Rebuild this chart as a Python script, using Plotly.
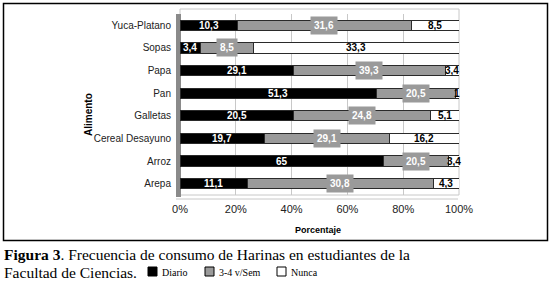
import numpy as np
import plotly.graph_objects as go

categories = ["Arepa", "Arroz", "Cereal Desayuno", "Galletas", "Pan", "Papa", "Sopas", "Yuca-Platano"]
diario = [11.1, 65, 19.7, 20.5, 51.3, 29.1, 3.4, 10.3]
semanal = [30.8, 20.5, 29.1, 24.8, 20.5, 39.3, 8.5, 31.6]
nunca = [4.3, 3.4, 16.2, 5.1, 1, 3.4, 33.3, 8.5]
series_names = ["Diario", "3-4 v/Sem", "Nunca"]
tick_vals = [0, 20, 40, 60, 80, 100]
tick_text = ["0%", "20%", "40%", "60%", "80%", "100%"]

colors = ["#000000", "#9a9a9a", "#ffffff"]

W, H = 550, 284
L, R, T, B = 180, 91, 14, 89

fig = go.Figure()
series = [diario, semanal, nunca]
for name, vals, col in zip(series_names, series, colors):
    fig.add_trace(go.Bar(
        y=categories, x=vals, name=name, orientation="h",
        marker=dict(color=col, line=dict(color="#2a2a2a", width=1)),
        showlegend=False, hoverinfo="skip",
    ))


def fmt(v):
    if float(v).is_integer():
        return str(int(v))
    return f"{v:.1f}".replace(".", ",")


arr = np.array(series, dtype=float)
tot = arr.sum(axis=0)
pct = arr / tot * 100
cum = np.cumsum(pct, axis=0)
annotations = []
for si in range(3):
    for ci, cat in enumerate(categories):
        mid = cum[si, ci] - pct[si, ci] / 2
        v = series[si][ci]
        base = dict(x=mid, y=cat, xref="x", yref="y", text=f"<b>{fmt(v)}</b>",
                    showarrow=False, xanchor="center", yanchor="middle")
        if si == 0:
            base["font"] = dict(color="white", size=10, family="Liberation Sans")
        elif si == 1:
            base.update(bgcolor="#9a9a9a", borderpad=3)
            base["font"] = dict(color="white", size=10, family="Liberation Sans")
        else:
            base["font"] = dict(color="black", size=10, family="Liberation Sans")
        annotations.append(base)

pw = W - L - R
ph = H - T - B


def px_x(p):
    return (p - L) / pw


def px_y(p):
    return (H - B - p) / ph


annotations += [
    dict(x=px_x(88), y=px_y(115), xref="paper", yref="paper", text="<b>Alimento</b>", textangle=-90,
         xanchor="center", yanchor="middle",
         showarrow=False, font=dict(size=10, family="Liberation Sans", color="black")),
    dict(x=px_x(318), y=px_y(230), xref="paper", yref="paper", text="<b>Porcentaje</b>",
         xanchor="center", yanchor="middle",
         showarrow=False, font=dict(size=9, family="Liberation Sans", color="black")),
    dict(x=px_x(2), y=px_y(254), xref="paper", yref="paper", xanchor="left", yanchor="middle",
         text="<b>Figura 3</b>. Frecuencia de consumo de Harinas en estudiantes de la",
         showarrow=False, font=dict(size=15.5, family="Liberation Serif", color="black")),
    dict(x=px_x(2), y=px_y(272), xref="paper", yref="paper", xanchor="left", yanchor="middle",
         text="Facultad de Ciencias.",
         showarrow=False, font=dict(size=15.5, family="Liberation Serif", color="black")),
]

shapes = []
# outer border
shapes.append(dict(type="rect", xref="paper", yref="paper", x0=px_x(3.5), x1=px_x(547.5), y0=px_y(240.5), y1=px_y(3.5),
                   line=dict(color="black", width=1.5), layer="below"))
# back wall border
shapes.append(dict(type="rect", xref="paper", yref="paper", x0=0, x1=1, y0=0, y1=px_y(9),
                   line=dict(color="#c8c8c8", width=1), layer="below"))
# left wall
shapes.append(dict(type="rect", xref="paper", yref="paper", x0=px_x(176), x1=px_x(181), y0=px_y(197), y1=px_y(14),
                   fillcolor="#8a8a8a", line=dict(width=0), layer="below"))
# floor
shapes.append(dict(type="line", xref="paper", yref="paper", x0=px_x(176), x1=px_x(458), y0=px_y(199), y1=px_y(199),
                   line=dict(color="#c8c8c8", width=1)))

# legend swatches in caption
leg = [(148, "Diario", "#000000"), (205, "3-4 v/Sem", "#9a9a9a"), (277, "Nunca", "#ffffff")]
for x0, name, col in leg:
    shapes.append(dict(type="rect", xref="paper", yref="paper", x0=px_x(x0), x1=px_x(x0 + 9),
                       y0=px_y(276), y1=px_y(267), fillcolor=col, line=dict(color="black", width=1)))
    annotations.append(dict(x=px_x(x0 + 12), y=px_y(272), xref="paper", yref="paper", xanchor="left",
                            yanchor="middle", text=name, showarrow=False,
                            font=dict(size=10, family="Liberation Serif", color="black")))

fig.update_layout(
    width=W, height=H,
    margin=dict(l=L, r=R, t=T, b=B),
    barmode="stack", barnorm="percent", bargap=0.55,
    paper_bgcolor="white", plot_bgcolor="white",
    xaxis=dict(range=[0, 100], tickvals=tick_vals, ticktext=tick_text, showgrid=True, gridcolor="#c8c8c8",
               zeroline=False, showline=False, ticks="outside", ticklen=4, tickcolor="rgba(0,0,0,0)",
               tickfont=dict(size=11, family="Liberation Sans", color="#222"),
               fixedrange=True),
    yaxis=dict(categoryorder="array", categoryarray=categories, showgrid=False,
               ticks="outside", ticklen=6, tickcolor="rgba(0,0,0,0)",
               tickfont=dict(size=10, family="Liberation Sans", color="#222"),
               fixedrange=True),
    annotations=annotations, shapes=shapes,
)

fig.write_html("out.html", config={"displayModeBar": False},
               post_script="document.body.style.margin='0';")
